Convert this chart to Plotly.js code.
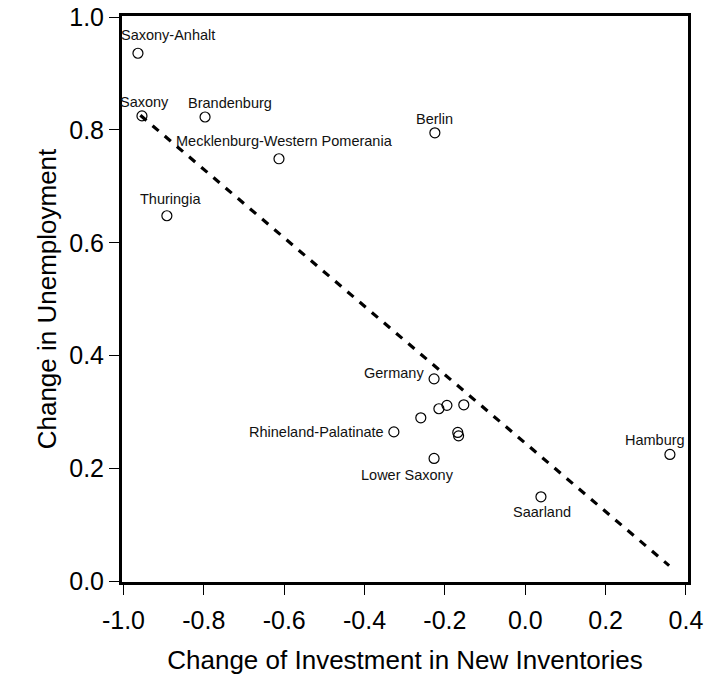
<!DOCTYPE html>
<html>
<head>
<meta charset="utf-8">
<script src="https://cdn.plot.ly/plotly-3.0.1.min.js"></script>
<style>html,body{margin:0;padding:0;background:#fff;}#chart{width:704px;height:680px;}</style>
</head>
<body>
<div id="chart"></div>
<script>
// Data
const labels = ["Saxony-Anhalt", "Saxony", "Brandenburg", "Mecklenburg-Western Pomerania", "Thuringia",
  "Berlin", "Germany", "Rhineland-Palatinate", "Lower Saxony", "Saarland", "Hamburg",
  "", "", "", "", "", ""];
const investmentChange = [-0.964, -0.954, -0.797, -0.613, -0.892, -0.225, -0.227, -0.327, -0.227, 0.039, 0.360,
  -0.260, -0.215, -0.195, -0.153, -0.168, -0.166];
const unemploymentChange = [0.936, 0.825, 0.823, 0.749, 0.648, 0.795, 0.359, 0.265, 0.218, 0.150, 0.225,
  0.290, 0.306, 0.312, 0.313, 0.264, 0.258];
const fitX = [-0.958, 0.358];
const fitY = [0.826, 0.028];
const xTickVals = [-1.0, -0.8, -0.6, -0.4, -0.2, 0.0, 0.2, 0.4];
const xTickText = ["-1.0", "-0.8", "-0.6", "-0.4", "-0.2", "0.0", "0.2", "0.4"];
const yTickVals = [0.0, 0.2, 0.4, 0.6, 0.8, 1.0];
const yTickText = ["0.0", "0.2", "0.4", "0.6", "0.8", "1.0"];

// Label placement styles (pixel offsets relative to the point)
const labelStyle = {
  "Saxony-Anhalt": {anchor: "center", dx: 30, dy: 18},
  "Saxony": {anchor: "center", dx: 3, dy: 14},
  "Brandenburg": {anchor: "center", dx: 25, dy: 14},
  "Mecklenburg-Western Pomerania": {anchor: "center", dx: 6, dy: 18},
  "Thuringia": {anchor: "center", dx: 4, dy: 17},
  "Berlin": {anchor: "center", dx: 0, dy: 14},
  "Germany": {anchor: "right", dx: -8, dy: 6},
  "Rhineland-Palatinate": {anchor: "right", dx: -8, dy: 0},
  "Lower Saxony": {anchor: "center", dx: -27, dy: -17},
  "Saarland": {anchor: "center", dx: 1, dy: -15},
  "Hamburg": {anchor: "center", dx: -15, dy: 14}
};

const FONT = "Liberation Sans, Arial, Helvetica, sans-serif";

const traces = [
  {
    x: fitX, y: fitY, type: "scatter", mode: "lines",
    line: {color: "#000", width: 3.2, dash: "8px,8px"},
    hoverinfo: "skip", showlegend: false
  },
  {
    x: investmentChange, y: unemploymentChange, type: "scatter", mode: "markers",
    text: labels,
    marker: {symbol: "circle-open", size: 10, color: "#000", line: {width: 1.2, color: "#000"}},
    showlegend: false
  }
];

const annotations = [];
labels.forEach((lab, i) => {
  if (!lab) return;
  const st = labelStyle[lab];
  annotations.push({
    x: investmentChange[i], y: unemploymentChange[i], xref: "x", yref: "y",
    text: lab, showarrow: false,
    xanchor: st.anchor, yanchor: "middle",
    xshift: st.dx, yshift: st.dy,
    font: {family: FONT, size: 14.5, color: "#111"}
  });
});

const axisCommon = {
  showgrid: false, zeroline: false,
  showline: true, linecolor: "#000", linewidth: 3, mirror: true,
  ticks: "outside", ticklen: 10, tickwidth: 1, tickcolor: "#000",
  tickfont: {family: FONT, size: 25, color: "#000"},
  tickmode: "array"
};

const layout = {
  width: 704, height: 680,
  margin: {l: 122, r: 16, t: 16, b: 98},
  paper_bgcolor: "#fff", plot_bgcolor: "#fff",
  font: {family: FONT, color: "#000"},
  xaxis: Object.assign({}, axisCommon, {
    range: [-1.0037, 0.405],
    tickvals: xTickVals, ticktext: xTickText,
    ticklabelstandoff: 4,
    title: {text: "Change of Investment in New Inventories", font: {family: FONT, size: 26, color: "#000"}, standoff: 18}
  }),
  yaxis: Object.assign({}, axisCommon, {
    range: [-0.001, 1.002],
    tickvals: yTickVals, ticktext: yTickText,
    title: {text: "Change in Unemployment", font: {family: FONT, size: 26, color: "#000"}, standoff: 6}
  }),
  annotations: annotations,
  showlegend: false
};

Plotly.newPlot("chart", traces, layout, {displayModeBar: false, staticPlot: true});
</script>
</body>
</html>
